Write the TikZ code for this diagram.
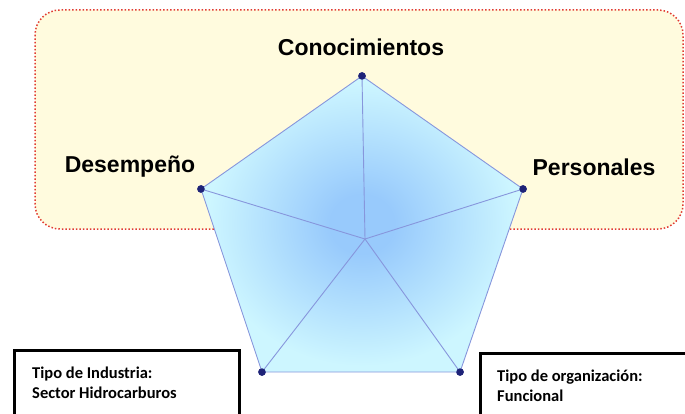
\documentclass[tikz,border=0pt]{standalone}
\usepackage{fontspec}
\setmainfont{Liberation Sans}
\newfontfamily\boxfont{Carlito}
\usetikzlibrary{positioning}
\definecolor{areafill}{RGB}{255,251,222}
\definecolor{areadot}{RGB}{225,60,50}
\definecolor{pentin}{RGB}{152,202,252}
\definecolor{pentout}{RGB}{205,246,255}
\definecolor{pentline}{RGB}{135,150,220}
\definecolor{dotnavy}{RGB}{30,35,120}
\pgfdeclareradialshading{pentshade}{\pgfpoint{0bp}{0bp}}{color(0bp)=(pentin); color(5bp)=(pentin); color(24bp)=(pentout); color(50bp)=(pentout)}

\begin{document}
\begin{tikzpicture}[
			x=1pt, y=-1pt,
			vertex/.style={circle, fill=dotnavy, inner sep=0pt, minimum size=7.5pt},
			spoke/.style={draw=pentline, line width=0.9pt},
			axislabel/.style={font=\fontsize{23}{27}\bfseries\selectfont, inner sep=0pt},
			infobox/.style={draw=black, line width=3pt, fill=white, anchor=north west, minimum width=225pt, minimum height=80pt},
			boxtext/.style={anchor=north west, inner sep=0pt, align=left, font=\boxfont\fontsize{16.5}{20}\bfseries\selectfont},
			]
			\useasboundingbox (0,0) rectangle (685,414);
			
			% area behind the pentagon
			\draw[areadot, fill=areafill, dotted, line width=1.5pt, rounded corners=25pt] (35,10) rectangle (683,229);
			
			\node[vertex] (v_c)  at (362,76)  {};
			\node[vertex] (v_p)  at (523,189) {};
			\node[vertex] (v_br) at (460,372) {};
			\node[vertex] (v_bl) at (262,372) {};
			\node[vertex] (v_d)  at (201,189) {};
			\coordinate (m) at (365,239);
			
			\shade[shading=pentshade] (v_c.center) -- (v_p.center) -- (v_br.center) -- (v_bl.center) -- (v_d.center) -- cycle;
			\draw[spoke] (v_c.center) -- (v_p.center) -- (v_br.center) -- (v_bl.center) -- (v_d.center) -- cycle;
			\foreach \v in {v_c,v_p,v_br,v_bl,v_d}
				\draw[spoke] (m) -- (\v.center);
			\foreach \v in {v_c,v_p,v_br,v_bl,v_d}
				\node[vertex] at (\v) {};
			
			\node[axislabel] (l_c) at (361,47)  {Conocimientos};
			\node[axislabel] (l_d) at (130,167) {Desempeño};
			\node[axislabel] (l_p) at (594,167) {Personales};
			
			\node[infobox] (b_ind) at (13,349) {};
			\node[infobox] (b_org) at (479,352) {};
			\node[boxtext] (t_ind) at (32,367) {Tipo de Industria:\\Sector Hidrocarburos};
			\node[boxtext] (t_org) at (497,370) {Tipo de organización:\\Funcional};
			
			\end{tikzpicture}
\end{document}
